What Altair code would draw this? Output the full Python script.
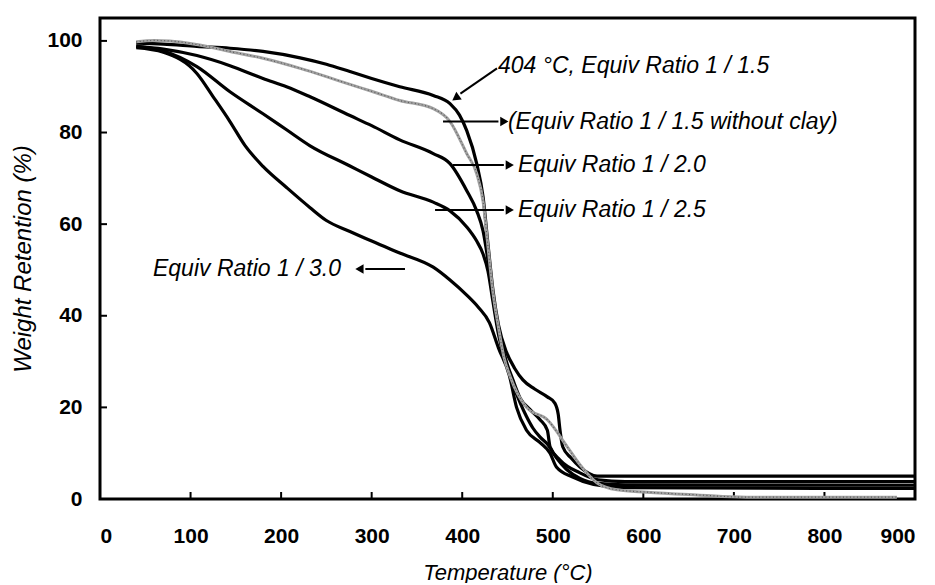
import altair as alt
import pandas as pd

# ---- data (Temperature in °C, Weight retention in %) ----
T_15 = [40, 70, 107, 143.5, 180, 221, 250, 276, 300, 331, 368, 386.5, 397, 405, 416, 423, 428.5, 434, 440, 449, 458, 467, 480, 494, 502, 506, 508, 511, 520, 530, 549, 565, 700, 900]
W_15 = [99.5, 99.3, 98.8, 98.4, 97.7, 96.3, 94.9, 93.3, 91.8, 90.0, 88.1, 86.3, 83.8, 80.4, 73.2, 66.0, 55.5, 45.5, 38.0, 32.0, 28.5, 26.0, 24.0, 22.3, 21.0, 18.5, 15.0, 11.4, 9.0, 7.0, 5.0, 5.0, 5.0, 5.0]

T_15nc = [40, 60, 77, 107, 143.5, 180, 221, 250, 276, 300, 331, 368, 386.5, 405, 416, 423, 428.5, 434, 440, 446, 453, 471, 494, 516, 530, 549, 571, 604, 659, 714, 880]
W_15nc = [99.8, 100.1, 100.0, 99.2, 97.7, 96.2, 94.0, 92.2, 90.5, 89.0, 87.0, 85.2, 82.4, 75.4, 71.0, 65.0, 55.0, 45.0, 37.5, 31.0, 26.7, 20.0, 17.3, 11.4, 7.5, 3.5, 2.0, 1.5, 0.9, 0.4, 0.4]

T_20 = [40, 70, 107, 143.5, 180, 206, 232, 276, 300, 331, 368, 386.5, 405, 416, 423, 428.5, 434, 440, 448, 456, 464, 475, 486, 494, 497, 508, 530, 550, 580, 900]
W_20 = [98.8, 98.2, 96.8, 94.6, 91.8, 90.0, 87.8, 83.7, 81.5, 78.4, 75.4, 73.2, 67.3, 62.9, 58.5, 52.0, 44.0, 37.0, 30.5, 26.0, 22.0, 19.5, 17.3, 15.0, 11.4, 8.5, 5.7, 4.2, 3.8, 3.8]

T_25 = [40, 70, 107, 143.5, 180, 206, 232, 276, 300, 331, 368, 386.5, 405, 416, 423, 428.5, 434, 440, 448, 456, 464, 471, 478, 486, 494, 504, 515, 530, 550, 580, 900]
W_25 = [98.8, 97.8, 94.4, 88.9, 84.1, 80.6, 77.1, 72.7, 70.3, 67.3, 64.8, 62.9, 59.4, 56.3, 53.5, 49.7, 43.0, 36.0, 30.0, 25.0, 21.0, 18.0, 15.5, 13.5, 12.0, 9.0, 6.5, 4.5, 3.4, 3.1, 3.0]

T_30 = [40, 70, 107, 125, 143.5, 160, 180, 206, 232, 250, 276, 300, 331, 368, 386.5, 405, 418, 430, 440, 452, 460, 471, 486, 497, 504, 522, 545, 580, 900]
W_30 = [98.5, 97.5, 92.9, 87.8, 82.4, 77.2, 72.6, 68.0, 63.6, 60.8, 58.4, 56.3, 53.7, 50.6, 47.8, 44.5, 41.8, 38.5, 33.0, 27.0, 20.0, 15.0, 12.3, 10.0, 7.0, 4.8, 3.2, 2.5, 2.3]

X_TICKS = [0, 100, 200, 300, 400, 500, 600, 700, 800, 900]
Y_TICKS = [0, 20, 40, 60, 80, 100]

LABELS = ["404 °C, Equiv Ratio 1 / 1.5", "(Equiv Ratio 1 / 1.5 without clay)",
          "Equiv Ratio 1 / 2.0", "Equiv Ratio 1 / 2.5", "Equiv Ratio 1 / 3.0"]
LABEL_T = [439.5, 450.5, 461.5, 461.5, 58.5]
LABEL_W = [94.6, 82.4, 72.9, 63.1, 50.2]

ARROW_T1 = [438.4, 378.8, 389.8, 370.0, 336.8]
ARROW_W1 = [94.0, 82.4, 72.9, 63.1, 50.2]
ARROW_T2 = [398.0, 440.0, 446.0, 446.0, 293.0]
ARROW_W2 = [88.5, 82.4, 72.9, 63.1, 50.2]
HEAD_T = [394.0, 445.0, 451.0, 451.0, 288.0]
HEAD_W = [87.7, 82.4, 72.9, 63.1, 50.2]
HEAD_ANGLE = [235, 90, 90, 90, 270]

# ---- tables ----
black_rows = []
for name, ts, ws in [("1/1.5", T_15, W_15), ("1/2.0", T_20, W_20),
                     ("1/2.5", T_25, W_25), ("1/3.0", T_30, W_30)]:
    for t, w in zip(ts, ws):
        black_rows.append({"series": name, "T": t, "W": w})
black_df = pd.DataFrame(black_rows)
gray_df = pd.DataFrame({"T": T_15nc, "W": W_15nc})
lab_df = pd.DataFrame({"label": LABELS, "T": LABEL_T, "W": LABEL_W})
arr_df = pd.DataFrame({"T": ARROW_T1, "W": ARROW_W1, "T2": ARROW_T2, "W2": ARROW_W2})
head_df = pd.DataFrame({"T": HEAD_T, "W": HEAD_W, "angle": HEAD_ANGLE})
xt_df = pd.DataFrame({"T": X_TICKS[1:-1]})
yt_df = pd.DataFrame({"W": Y_TICKS[1:]})

FONT = "Liberation Sans"
W_PX, H_PX = 815, 481

x_scale = alt.Scale(domain=[0, 900], nice=False, zero=False)
y_scale = alt.Scale(domain=[0, 105], nice=False, zero=False)
x_axis = alt.Axis(values=X_TICKS, title="Temperature (°C)", labelPadding=26,
                  titlePadding=16, titleFontSize=22)
y_axis = alt.Axis(values=Y_TICKS, title="Weight Retention (%)", labelPadding=18,
                  titlePadding=11, titleFontSize=24)

X = alt.X("T:Q", scale=x_scale, axis=x_axis)
Y = alt.Y("W:Q", scale=y_scale, axis=y_axis)

black_lines = alt.Chart(black_df).mark_line(
    color="black", strokeWidth=3.2, interpolate="monotone"
).encode(x=X, y=Y, detail="series:N")

gray_line = alt.Chart(gray_df).mark_line(
    color="#a2a2a2", strokeWidth=3, interpolate="monotone"
).encode(x=X, y=Y)

gray_speckle = alt.Chart(gray_df).mark_line(
    color="#5a5a5a", strokeWidth=1.2, strokeDash=[1, 2.5], interpolate="monotone"
).encode(x=X, y=Y)

arrows = alt.Chart(arr_df).mark_rule(color="black", strokeWidth=2).encode(
    x=X, y=Y, x2="T2:Q", y2="W2:Q")

heads = alt.Chart(head_df).mark_point(
    shape="triangle", filled=True, color="black", size=90, opacity=1
).encode(x=X, y=Y, angle=alt.Angle("angle:Q", scale=None))

texts = alt.Chart(lab_df).mark_text(
    align="left", baseline="middle", font=FONT, fontStyle="italic", fontSize=23, color="black"
).encode(x=X, y=Y, text="label:N")

xticks = alt.Chart(xt_df).mark_rule(color="black", strokeWidth=2).encode(
    x=X, y=alt.value(H_PX), y2=alt.value(H_PX - 7))
yticks = alt.Chart(yt_df).mark_rule(color="black", strokeWidth=2).encode(
    y=Y, x=alt.value(0), x2=alt.value(7))

chart = alt.layer(xticks, yticks, black_lines, gray_line, gray_speckle, arrows, heads, texts).properties(
    width=W_PX, height=H_PX,
    autosize=alt.AutoSizeParams(type="none"),
    padding={"left": 92, "top": 10, "right": 12, "bottom": 84},
    background="white",
).configure_view(
    stroke="black", strokeWidth=3
).configure_axis(
    grid=False, ticks=False, domain=False,
    labelFont=FONT, labelFontWeight="bold", labelFontSize=21, labelColor="black",
    titleFont=FONT, titleFontStyle="italic", titleFontWeight="normal",
    titleColor="black",
)

chart.save("out.html", embed_options={"renderer": "svg", "actions": False})
